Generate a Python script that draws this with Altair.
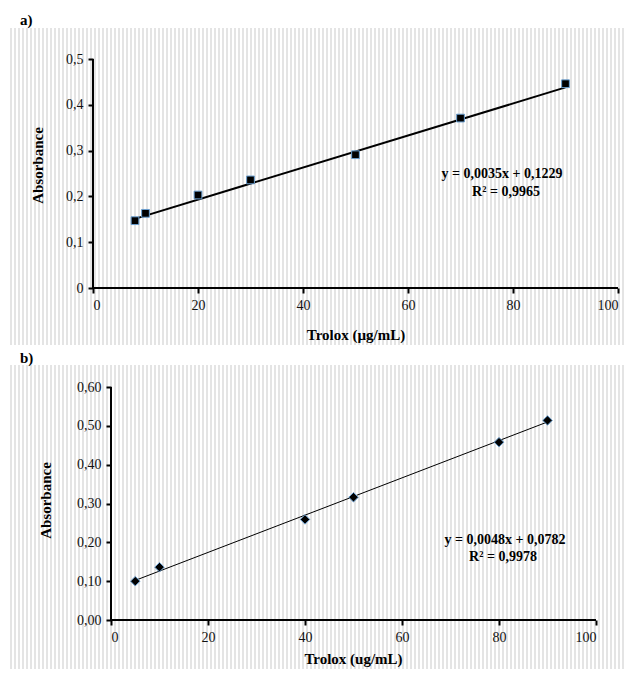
import altair as alt
import pandas as pd

# ---- data ----
a_conc = [8, 10, 20, 30, 50, 70, 90]
a_abs = [0.147, 0.163, 0.203, 0.236, 0.291, 0.371, 0.446]
a_fit_x = [8, 90]
a_fit_y = [0.151, 0.438]

b_conc = [5, 10, 40, 50, 80, 90]
b_abs = [0.100, 0.136, 0.259, 0.316, 0.458, 0.514]
b_fit_x = [5, 90]
b_fit_y = [0.102, 0.510]

x_ticks = [0, 20, 40, 60, 80, 100]
a_y_ticks = [0, 0.1, 0.2, 0.3, 0.4, 0.5]
b_y_ticks = [0, 0.1, 0.2, 0.3, 0.4, 0.5, 0.6]

a_eq = ["y = 0,0035x + 0,1229", "R² = 0,9965"]
b_eq = ["y = 0,0048x + 0,0782", "R² = 0,9978"]
panel_labels = ["a)", "b)"]

W, H = 618, 661
SERIF = "Liberation Serif"

dfa = pd.DataFrame({"x": a_conc, "y": a_abs})
dfa_fit = pd.DataFrame({"x": a_fit_x, "y": a_fit_y})
dfb = pd.DataFrame({"x": b_conc, "y": b_abs})
dfb_fit = pd.DataFrame({"x": b_fit_x, "y": b_fit_y})
one = pd.DataFrame({"k": [0]})


def stripes(width, period=4, grey="#e4e4e4"):
    stops = []
    n = int(width // period) + 1
    for k in range(n):
        s = k * period / width
        m = (k * period + period / 2) / width
        e = (k + 1) * period / width
        stops += [
            alt.GradientStop(offset=min(s, 1), color=grey),
            alt.GradientStop(offset=min(m, 1), color=grey),
            alt.GradientStop(offset=min(m, 1), color="#ffffff"),
            alt.GradientStop(offset=min(e, 1), color="#ffffff"),
        ]
    return alt.LinearGradient(gradient="linear", stops=stops, x1=0, x2=1, y1=0, y2=0)


bg_w = W - 2
grad = stripes(bg_w)
bg_a = alt.Chart(one).mark_rect(fill=grad, strokeWidth=0).encode(
    x=alt.value(2), x2=alt.value(W), y=alt.value(20), y2=alt.value(337)
)
bg_b = alt.Chart(one).mark_rect(fill=grad, strokeWidth=0).encode(
    x=alt.value(2), x2=alt.value(W), y=alt.value(357), y2=alt.value(H)
)

lab_a = alt.Chart(one).mark_text(
    text=panel_labels[0], font=SERIF, fontSize=15, fontWeight="bold", align="left", baseline="middle"
).encode(x=alt.value(12), y=alt.value(12))
lab_b = alt.Chart(one).mark_text(
    text=panel_labels[1], font=SERIF, fontSize=15, fontWeight="bold", align="left", baseline="middle"
).encode(x=alt.value(12), y=alt.value(350))

eq_style = dict(font=SERIF, fontSize=14, fontWeight="bold", align="center", baseline="middle")
eq_a1 = alt.Chart(one).mark_text(text=a_eq[0], **eq_style).encode(x=alt.value(494), y=alt.value(166))
eq_a2 = alt.Chart(one).mark_text(text=a_eq[1], **eq_style).encode(x=alt.value(498), y=alt.value(184))
eq_b1 = alt.Chart(one).mark_text(text=b_eq[0], **eq_style).encode(x=alt.value(497), y=alt.value(532))
eq_b2 = alt.Chart(one).mark_text(text=b_eq[1], **eq_style).encode(x=alt.value(495), y=alt.value(549))

axis_common = dict(
    grid=False,
    zindex=2,
    domain=False,
    tickColor="black",
    tickWidth=2,
    tickSize=5,
    tickOpacity=1,
    labelFont=SERIF,
    labelFontSize=14,
    labelColor="#111111",
    titleFont=SERIF,
    titleFontSize=15,
    titleFontWeight="bold",
    titleColor="black",
    titleBaseline="middle",
    labelPadding=5,
)

# Panel A scales (pixel ranges of the plot rectangle)
xa_scale = alt.Scale(domain=[0, 100], range=[85, 610], nice=False, zero=False)
ya_scale = alt.Scale(domain=[0, 0.5], range=[280, 51], nice=False, zero=False)
xa_axis = alt.Axis(
    orient="bottom", offset=-(H - 280), values=x_ticks, title="Trolox (µg/mL)",
    titleX=347.5, titleY=46, titleAngle=0, titleAlign="center", **axis_common
)
ya_axis = alt.Axis(
    orient="left", offset=-85, values=a_y_ticks, title="Absorbance",
    titleX=-56, titleY=157, titleAngle=-90, titleAlign="center",
    labelExpr="replace(format(datum.value, '.1~f'), '.', ',')", **axis_common
)

pts_a = alt.Chart(dfa).mark_point(
    shape="square", filled=True, size=60, fill="black", stroke="#6a9fd0", strokeWidth=1, opacity=1
).encode(
    x=alt.X("x:Q", scale=xa_scale, axis=xa_axis),
    y=alt.Y("y:Q", scale=ya_scale, axis=ya_axis),
)
line_a = alt.Chart(dfa_fit).mark_line(color="black", strokeWidth=2).encode(
    x=alt.X("x:Q", scale=xa_scale, axis=xa_axis), y=alt.Y("y:Q", scale=ya_scale, axis=ya_axis)
)
# axis lines drawn through the panel's own scales
ax_a_y = alt.Chart(one).mark_rule(color="black", strokeWidth=2).encode(
    x=alt.XDatum(0, type="quantitative", scale=xa_scale, axis=xa_axis),
    y=alt.YDatum(0, type="quantitative", scale=ya_scale, axis=ya_axis),
    y2=alt.Y2Datum(0.5),
)
ax_a_x = alt.Chart(one).mark_rule(color="black", strokeWidth=2).encode(
    x=alt.XDatum(0, type="quantitative", scale=xa_scale, axis=xa_axis),
    x2=alt.X2Datum(100),
    y=alt.YDatum(0, type="quantitative", scale=ya_scale, axis=ya_axis),
)
panel_a = alt.layer(line_a, pts_a, ax_a_y, ax_a_x)

# Panel B
xb_scale = alt.Scale(domain=[0, 100], range=[103, 588], nice=False, zero=False)
yb_scale = alt.Scale(domain=[0, 0.6], range=[612, 379], nice=False, zero=False)
xb_axis = alt.Axis(
    orient="bottom", offset=-(H - 612), values=x_ticks, title="Trolox (ug/mL)",
    titleX=345, titleY=38, titleAngle=0, titleAlign="center", **axis_common
)
yb_axis = alt.Axis(
    orient="left", offset=-103, values=b_y_ticks, title="Absorbance",
    titleX=-66, titleY=492, titleAngle=-90, titleAlign="center",
    labelExpr="replace(format(datum.value, '.2f'), '.', ',')", **axis_common
)

pts_b = alt.Chart(dfb).mark_point(
    shape="diamond", filled=True, size=90, fill="black", stroke="#6a9fd0", strokeWidth=1, opacity=1
).encode(
    x=alt.X("x:Q", scale=xb_scale, axis=xb_axis),
    y=alt.Y("y:Q", scale=yb_scale, axis=yb_axis),
)
line_b = alt.Chart(dfb_fit).mark_line(color="black", strokeWidth=1).encode(
    x=alt.X("x:Q", scale=xb_scale, axis=xb_axis), y=alt.Y("y:Q", scale=yb_scale, axis=yb_axis)
)
ax_b_y = alt.Chart(one).mark_rule(color="black", strokeWidth=2).encode(
    x=alt.XDatum(0, type="quantitative", scale=xb_scale, axis=xb_axis),
    y=alt.YDatum(0, type="quantitative", scale=yb_scale, axis=yb_axis),
    y2=alt.Y2Datum(0.6),
)
ax_b_x = alt.Chart(one).mark_rule(color="black", strokeWidth=2).encode(
    x=alt.XDatum(0, type="quantitative", scale=xb_scale, axis=xb_axis),
    x2=alt.X2Datum(100),
    y=alt.YDatum(0, type="quantitative", scale=yb_scale, axis=yb_axis),
)
panel_b = alt.layer(line_b, pts_b, ax_b_y, ax_b_x)

chart = (
    alt.layer(bg_a, bg_b, lab_a, lab_b, eq_a1, eq_a2, eq_b1, eq_b2, panel_a, panel_b)
    .resolve_scale(x="independent", y="independent")
    .resolve_axis(x="independent", y="independent")
    .properties(
        width=W, height=H, padding=0,
        autosize=alt.AutoSizeParams(type="none"),
        background="white",
    )
    .configure_view(stroke="transparent")
)

chart.save("out.html", embed_options={"renderer": "svg", "actions": False})
